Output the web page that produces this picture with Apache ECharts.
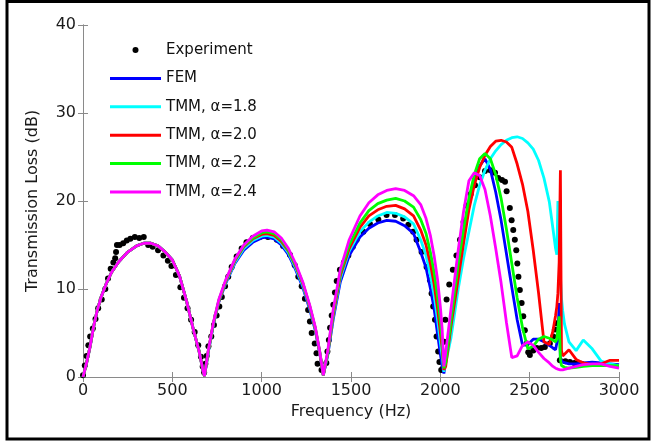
<!DOCTYPE html>
<html>
<head>
<meta charset="utf-8">
<script src="https://cdn.jsdelivr.net/npm/echarts@6/dist/echarts.min.js"></script>
<style>
  html, body { margin: 0; padding: 0; background: #fff; }
  #chart { width: 654px; height: 441px; }
</style>
</head>
<body>
<div id="chart"></div>
<script>
// measured points (frequency in Hz, transmission loss in dB)
const expFreq = [0,10,20,30,40,55,70,85,105,125,140,155,170,180,185,190,205,225,245,265,290,315,340,365,390,420,450,475,495,520,545,565,585,605,625,645,660,670,678,
  685,692,702,718,733,748,763,777,795,813,832,860,888,915,950,990,1035,1085,1120,1158,1185,1205,1224,1242,1260,1270,1280,1297,1307,1313,1335,
  1362,1368,1376,1383,1392,1401,1410,1420,1438,1460,1485,1510,1532,1569,1606,1653,1699,1746,1792,1821,1848,1867,1895,1923,1942,1951,1960,1970,1979,1988,1995,2005,
  2015,2022,2028,2035,2050,2070,2090,2110,2130,2147,2170,2194,2220,2250,2280,2306,2324,2345,2362,2371,2389,2399,2408,2417,2425,2431,2437,2445,2455,2464,2473,2483,2492,2501,
  2520,2540,2565,2585,2613,2632,2641,2651,2669,2700,2725,2750,2772,2790];
const expTL = [0.2,1.3,2.4,3.6,4.6,5.5,6.6,7.8,8.8,10.0,11.2,12.3,13.0,13.5,14.2,15.0,15.0,15.2,15.5,15.7,15.9,15.8,15.9,15.0,14.8,14.4,13.8,13.2,12.6,11.6,10.2,9.0,7.8,6.5,5.1,3.6,2.3,1.2,0.5,
  1.5,2.4,3.5,4.6,5.9,7.0,8.0,9.1,10.3,11.4,12.5,13.7,14.6,15.3,15.8,15.9,15.9,15.6,14.9,13.9,12.7,11.4,10.3,8.9,7.6,6.3,5.0,3.8,2.7,1.5,0.8,
  1.6,2.9,4.2,5.6,7.0,8.2,9.6,10.9,12.2,13.0,13.8,14.8,15.6,16.5,17.4,17.9,18.4,18.4,18.0,17.3,16.5,15.6,14.2,12.5,11.0,9.5,8.0,6.5,4.6,2.9,1.7,0.8,
  1.0,4.0,6.5,8.8,10.5,12.2,13.8,15.6,17.6,19.5,20.8,21.8,22.7,23.4,23.5,23.2,22.6,22.4,22.2,21.1,19.2,17.8,16.7,15.6,14.4,12.9,11.4,9.9,8.4,6.9,5.3,3.8,2.8,2.5,
  3.0,3.3,3.3,3.4,3.8,4.6,5.4,6.1,1.9,1.8,1.7,1.6,1.5,1.5];

// model curves share one frequency grid
const freq = [0,20,40,60,80,100,130,160,200,250,300,340,380,420,460,500,540,580,620,650,670,680,
  700,730,760,800,850,900,950,1000,1030,1070,1110,1150,1190,1230,1270,1300,1325,1345,
  1370,1400,1440,1490,1550,1600,1650,1700,1750,1800,1850,1890,1920,1945,1965,1985,2000,2010,2020,
  2030,2060,2100,2130,2160,2190,2220,2250,2280,2310,2340,2370,2400,2430,2460,2490,2520,2550,2580,2610,2630,2645,2652,2658,2665,2672,2678,2685,2695,2720,2760,2800,2850,2900,2950,3000];

const fem = [0,1.6,3.5,5.8,7.6,9.0,10.6,11.9,13.1,14.2,14.9,15.2,15.2,14.9,14.2,13.3,11.5,8.6,5.2,2.9,0.9,0.1,
  2.7,6.0,8.5,10.7,12.9,14.4,15.3,15.8,15.9,15.7,15.0,13.9,12.2,10.2,7.6,5.3,2.7,0.2,
  2.5,6.5,10.8,13.8,15.9,16.9,17.5,17.8,17.7,17.2,16.3,14.2,12.4,10.0,7.8,4.8,2.6,1.3,0.4,
  1.8,6.8,12.6,16.5,19.8,22.3,24.0,24.8,23.6,21.0,17.8,14.0,10.2,6.5,3.6,3.7,4.3,4.3,4.0,3.6,3.3,3.1,3.2,4.5,8.4,2.0,1.8,1.7,1.6,1.5,1.5,1.6,1.7,1.6,1.5,1.4];

const tmm18 = [0,1.6,3.5,5.8,7.6,9.0,10.6,11.9,13.1,14.2,14.9,15.2,15.2,14.9,14.2,13.3,11.5,8.6,5.2,2.9,0.9,0.1,
  2.7,6.0,8.6,10.8,13.0,14.6,15.5,16.0,16.1,15.9,15.2,14.1,12.4,10.4,7.8,5.4,2.8,0.2,
  2.6,6.8,11.2,14.3,16.5,17.6,18.3,18.7,18.6,18.2,17.4,15.6,13.8,11.5,9.3,6.4,3.9,2.4,0.6,
  0.8,4.5,10.0,13.5,16.5,19.5,21.8,23.5,24.8,25.7,26.4,26.9,27.2,27.3,27.1,26.6,25.9,24.6,22.6,19.9,16.9,14.6,13.9,20.0,15.5,11.5,9.0,7.5,6.0,4.0,3.0,4.2,3.2,1.8,1.5,1.3];

const tmm20 = [0,1.6,3.5,5.8,7.6,9.0,10.6,11.9,13.1,14.2,14.9,15.2,15.2,14.9,14.2,13.3,11.5,8.6,5.2,2.9,0.9,0.1,
  2.8,6.1,8.6,10.9,13.2,14.8,15.7,16.2,16.3,16.1,15.4,14.3,12.6,10.6,7.9,5.5,2.8,0.2,
  2.7,7.0,11.5,14.6,17.0,18.3,19.0,19.4,19.5,19.1,18.3,16.7,15.0,12.8,10.6,7.7,5.1,3.3,0.8,
  1.2,5.8,11.2,15.2,19.0,21.8,23.8,25.2,26.2,26.8,26.9,26.7,26.1,24.2,21.9,18.8,14.4,9.5,4.0,3.7,5.2,7.0,8.0,9.5,13.0,23.5,3.0,2.4,2.6,3.1,2.0,1.6,1.4,1.5,1.9,1.9];

const tmm22 = [0,1.6,3.5,5.8,7.6,9.0,10.6,11.9,13.1,14.2,14.9,15.2,15.2,14.9,14.2,13.3,11.5,8.6,5.2,2.9,0.9,0.1,
  2.8,6.1,8.7,11.0,13.3,14.9,15.8,16.4,16.5,16.3,15.6,14.4,12.7,10.7,8.0,5.6,2.9,0.2,
  2.8,7.3,11.8,15.0,17.5,18.9,19.7,20.1,20.3,20.0,19.3,17.9,16.3,14.1,11.9,9.1,6.3,4.2,1.0,
  1.6,6.5,12.8,16.8,20.3,23.0,24.8,25.4,24.8,23.0,20.3,16.8,12.9,9.0,5.6,3.2,3.5,4.3,4.6,4.4,4.2,4.0,4.3,5.5,6.9,2.0,1.3,1.2,1.1,1.0,1.1,1.2,1.3,1.3,1.3,1.3];

const tmm24 = [0,1.6,3.5,5.8,7.6,9.0,10.6,11.9,13.1,14.2,14.9,15.2,15.2,14.9,14.2,13.3,11.5,8.6,5.2,2.9,0.9,0.1,
  2.9,6.2,8.8,11.1,13.4,15.0,16.0,16.6,16.7,16.5,15.8,14.6,12.9,10.8,8.1,5.7,2.9,0.2,
  3.0,7.6,12.2,15.6,18.3,19.8,20.7,21.2,21.4,21.2,20.6,19.6,18.0,16.0,13.8,11.0,8.0,5.5,1.2,
  2.8,7.8,14.4,18.8,22.3,23.2,22.9,21.3,18.3,14.6,10.7,6.2,2.2,2.4,3.6,4.0,3.6,2.8,2.1,1.6,1.2,1.0,0.9,0.9,0.8,0.8,0.8,0.8,0.9,1.0,1.2,1.4,1.5,1.5,1.2,1.0];

const xTicks = [0, 3000, 500];   // min, max, step
const yTicks = [0, 40, 10];

const FONT = 'DejaVu Sans';
const pair = (xs, ys) => xs.map((x, i) => [x, ys[i]]);

// legend glyphs: the extra moveTo's pin the box to 51x18 so nothing gets stretched
const LINE_ICON = 'path://M0,0 M51,18 M0,7.5 L51,7.5 L51,10.5 L0,10.5 Z';
const DOT_ICON = 'path://M0,0 M51,18 M22.5,9 A3,3 0 1,0 28.5,9 A3,3 0 1,0 22.5,9 Z';

const chart = echarts.init(document.getElementById('chart'), null, { renderer: 'canvas' });

const lineSeries = (name, values, color) => ({
  name: name,
  type: 'line',
  data: pair(freq, values),
  symbol: 'none',
  smooth: false,
  lineStyle: { color: color, width: 2.8 },
  itemStyle: { color: color },
  animation: false
});

const axisBase = {
  type: 'value',
  axisLine: { show: true, lineStyle: { color: '#8a8a8a', width: 1 } },
  axisTick: { show: true, inside: true, length: 5, lineStyle: { color: '#8a8a8a' } },
  splitLine: { show: false }
};

const option = {
  backgroundColor: '#fff',
  animation: false,
  grid: { left: 83, right: 35, top: 25, bottom: 64 },
  xAxis: [
    Object.assign({}, axisBase, {
      min: xTicks[0], max: xTicks[1], interval: xTicks[2],
      name: 'Frequency (Hz)', nameLocation: 'middle', nameGap: 26,
      nameTextStyle: { fontFamily: FONT, fontSize: 16, color: '#1a1a1a' },
      axisLabel: { fontFamily: FONT, fontSize: 16, color: '#1a1a1a', margin: 6, formatter: v => String(v) }
    }),
    Object.assign({}, axisBase, {
      position: 'top', min: xTicks[0], max: xTicks[1], interval: xTicks[2],
      axisLabel: { show: false }
    })
  ],
  yAxis: [
    Object.assign({}, axisBase, {
      min: yTicks[0], max: yTicks[1], interval: yTicks[2],
      name: 'Transmission Loss (dB)', nameLocation: 'middle', nameGap: 42, nameRotate: 90,
      nameTextStyle: { fontFamily: FONT, fontSize: 16, color: '#1a1a1a' },
      axisLabel: { fontFamily: FONT, fontSize: 16, color: '#1a1a1a', margin: 7, formatter: v => String(v) }
    }),
    Object.assign({}, axisBase, {
      position: 'right', min: yTicks[0], max: yTicks[1], interval: yTicks[2],
      axisLabel: { show: false }
    })
  ],
  legend: {
    data: [
      { name: 'Experiment', icon: DOT_ICON },
      { name: 'FEM', icon: LINE_ICON },
      { name: 'TMM, α=1.8', icon: LINE_ICON },
      { name: 'TMM, α=2.0', icon: LINE_ICON },
      { name: 'TMM, α=2.2', icon: LINE_ICON },
      { name: 'TMM, α=2.4', icon: LINE_ICON }
    ],
    orient: 'vertical',
    left: 105, top: 36,
    itemWidth: 51, itemHeight: 18, itemGap: 10.4,
    selectedMode: false,
    textStyle: { fontFamily: FONT, fontSize: 15, lineHeight: 18, color: '#111' }
  },
  graphic: [
    {
      type: 'rect',
      shape: { x: 7, y: 1.5, width: 642, height: 437.5 },
      style: { fill: 'none', stroke: '#000', lineWidth: 3 },
      silent: true
    }
  ],
  series: [
    {
      name: 'Experiment',
      type: 'scatter',
      data: pair(expFreq, expTL),
      symbol: 'circle',
      symbolSize: 6,
      itemStyle: { color: '#000', opacity: 1 },
      animation: false
    },
    lineSeries('FEM', fem, '#0000ff'),
    lineSeries('TMM, α=1.8', tmm18, '#00ffff'),
    lineSeries('TMM, α=2.0', tmm20, '#ff0000'),
    lineSeries('TMM, α=2.2', tmm22, '#00ff00'),
    lineSeries('TMM, α=2.4', tmm24, '#ff00ff')
  ]
};

chart.setOption(option);
</script>
</body>
</html>
